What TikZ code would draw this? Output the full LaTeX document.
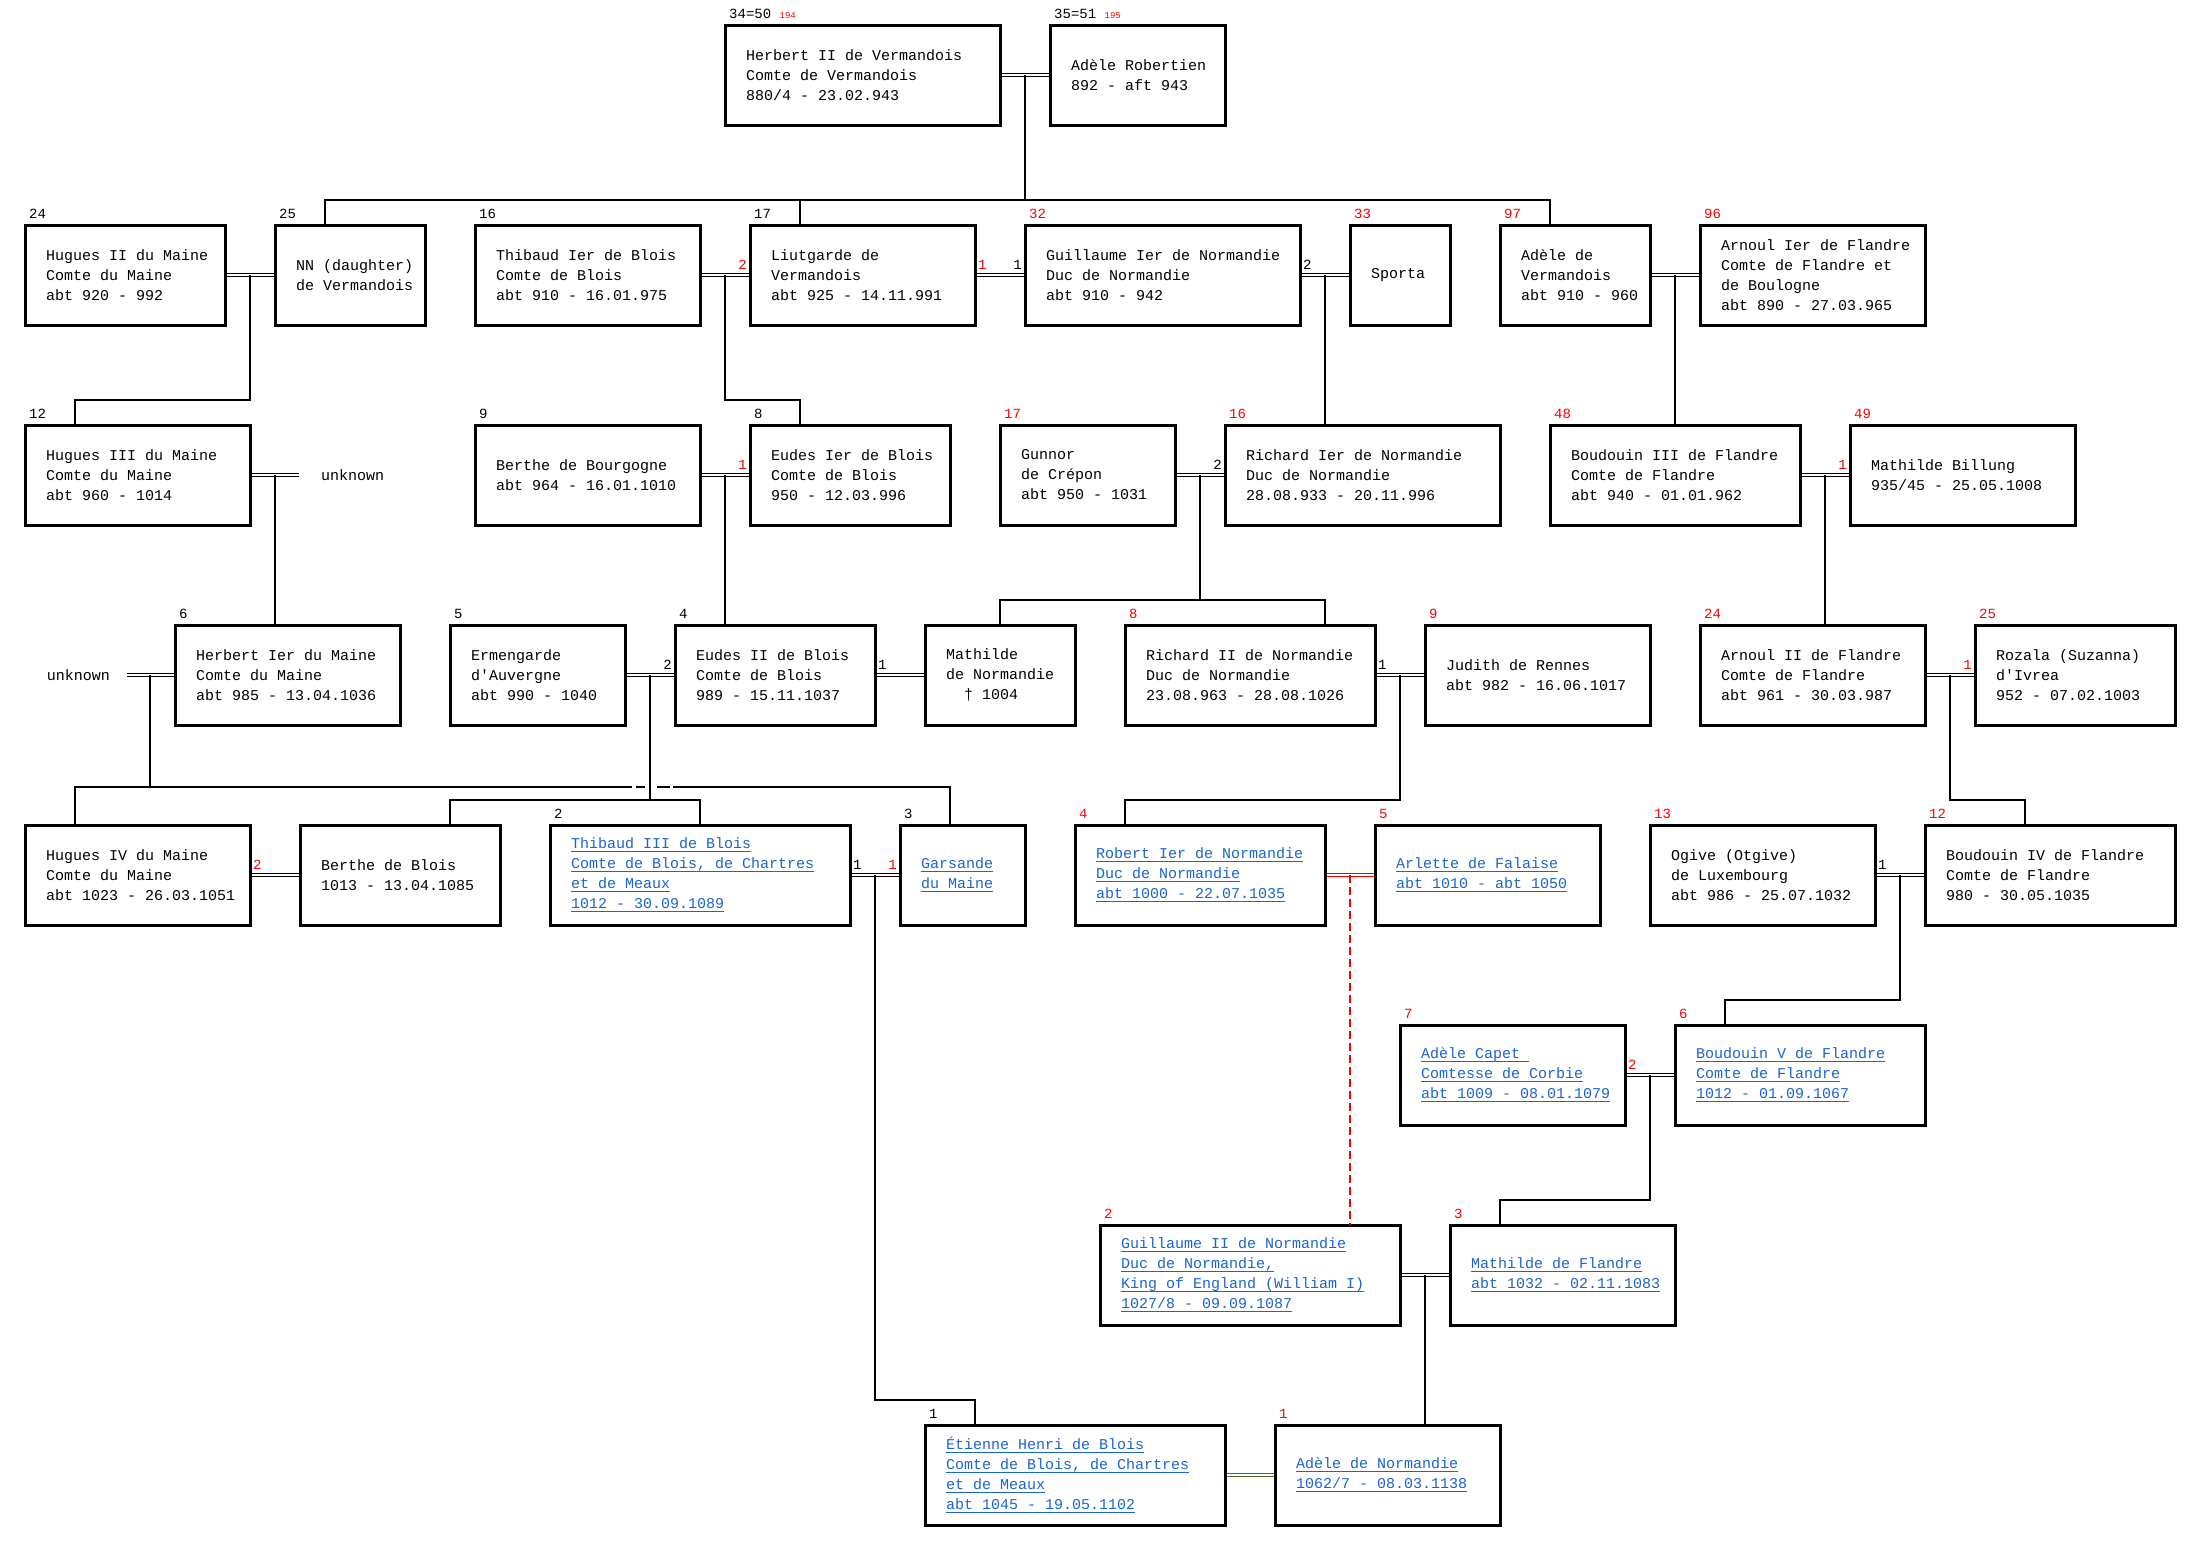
\documentclass[tikz,border=0pt]{standalone}
\usepackage{fontspec}
\setmonofont{Liberation Mono}
\usetikzlibrary{positioning}
\definecolor{linkblue}{RGB}{25,100,210}
\definecolor{wedgreen}{RGB}{70,110,40}
\newcommand{\boxfont}{\ttfamily\fontsize{15pt}{20pt}\selectfont}
\newcommand{\numfont}{\ttfamily\fontsize{14pt}{16pt}\selectfont}
\newcommand{\tinyred}[1]{{\fontsize{9pt}{9pt}\selectfont\color{red}#1}}
\newsavebox{\lnkbox}
\newcommand{\lnk}[1]{\leavevmode\sbox{\lnkbox}{#1}\rlap{\rule[-3pt]{\wd\lnkbox}{1pt}}\usebox{\lnkbox}}

\begin{document}
\begin{tikzpicture}[
    x=1pt, y=-1pt,
    person/.style={rectangle, draw, line width=3pt, outer sep=0pt, inner sep=0pt, minimum width=#1, minimum height=100pt, anchor=north west},
    ptext/.style={anchor=west, align=left, inner xsep=21pt, inner ysep=0pt, font=\boxfont, text=black},
    plink/.style={ptext, text=linkblue},
    nlab/.style={anchor=south west, inner sep=0pt, xshift=4pt, yshift=6pt, font=\numfont},
    mlabL/.style={anchor=south east, inner sep=0pt, xshift=-3pt, yshift=5pt, font=\numfont},
    mlabR/.style={anchor=south west, inner sep=0pt, xshift=3pt, yshift=5pt, font=\numfont},
    unknown/.style={inner ysep=0pt, font=\boxfont},
    wed/.style={double=white, double distance=1.4pt, line width=1pt, shorten >=1.5pt, shorten <=1.5pt},
    kid/.style={line width=2pt},
    illeg/.style={kid, red, dash pattern=on 8pt off 4pt}
]
    \useasboundingbox (0,0) rectangle (2201,1550);

    % Generation 1
    \node[person=275pt, label={[ptext]west:{Herbert II de Vermandois\\Comte de Vermandois\\880/4 - 23.02.943}},
          label={[nlab]north west:{34=50 \tinyred{194}}}] (herbert2) at (725,25) {};
    \node[person=175pt, right=50pt of herbert2, label={[ptext]west:{Adèle Robertien\\892 - aft 943}},
          label={[nlab]north west:{35=51 \tinyred{195}}}] (adeler) {};

    % Generation 2
    \node[person=200pt, label={[ptext]west:{Hugues II du Maine\\Comte du Maine\\abt 920 - 992}},
          label={[nlab]north west:24}] (hugues2) at (25,225) {};
    \node[person=150pt, right=50pt of hugues2, label={[ptext]west:{NN (daughter)\\de Vermandois}},
          label={[nlab]north west:25}] (nn) {};
    \node[person=225pt, right=50pt of nn, label={[ptext]west:{Thibaud Ier de Blois\\Comte de Blois\\abt 910 - 16.01.975}},
          label={[nlab]north west:16}] (thibaud1) {};
    \node[person=225pt, right=50pt of thibaud1, label={[ptext]west:{Liutgarde de\\Vermandois\\abt 925 - 14.11.991}},
          label={[nlab]north west:17}, label={[mlabL, red]west:2}, label={[mlabR, red]east:1}] (liutgarde) {};
    \node[person=275pt, right=50pt of liutgarde, label={[ptext]west:{Guillaume Ier de Normandie\\Duc de Normandie\\abt 910 - 942}},
          label={[nlab, red]north west:32}, label={[mlabL]west:1}, label={[mlabR]east:2}] (guillaume1) {};
    \node[person=100pt, right=50pt of guillaume1, label={[ptext]west:{Sporta}},
          label={[nlab, red]north west:33}] (sporta) {};
    \node[person=150pt, right=50pt of sporta, label={[ptext]west:{Adèle de\\Vermandois\\abt 910 - 960}},
          label={[nlab, red]north west:97}] (adelev) {};
    \node[person=225pt, right=50pt of adelev, label={[ptext]west:{Arnoul Ier de Flandre\\Comte de Flandre et\\de Boulogne\\abt 890 - 27.03.965}},
          label={[nlab, red]north west:96}] (arnoul1) {};

    % Generation 3
    \node[person=225pt, label={[ptext]west:{Hugues III du Maine\\Comte du Maine\\abt 960 - 1014}},
          label={[nlab]north west:12}] (hugues3) at (25,425) {};
    \node[unknown, right=50pt of hugues3, inner xsep=21pt] (unk1) {unknown};
    \node[person=225pt, label={[ptext]west:{Berthe de Bourgogne\\abt 964 - 16.01.1010}},
          label={[nlab]north west:9}] (berthebg) at (475,425) {};
    \node[person=200pt, right=50pt of berthebg, label={[ptext]west:{Eudes Ier de Blois\\Comte de Blois\\950 - 12.03.996}},
          label={[nlab]north west:8}, label={[mlabL, red]west:1}] (eudes1) {};
    \node[person=175pt, right=50pt of eudes1, label={[ptext]west:{Gunnor\\de Crépon\\abt 950 - 1031}},
          label={[nlab, red]north west:17}] (gunnor) {};
    \node[person=275pt, right=50pt of gunnor, label={[ptext]west:{Richard Ier de Normandie\\Duc de Normandie\\28.08.933 - 20.11.996}},
          label={[nlab, red]north west:16}, label={[mlabL]west:2}] (richard1) {};
    \node[person=250pt, right=50pt of richard1, label={[ptext]west:{Boudouin III de Flandre\\Comte de Flandre\\abt 940 - 01.01.962}},
          label={[nlab, red]north west:48}] (boudouin3) {};
    \node[person=225pt, right=50pt of boudouin3, label={[ptext]west:{Mathilde Billung\\935/45 - 25.05.1008}},
          label={[nlab, red]north west:49}, label={[mlabL, red]west:1}] (mathildeb) {};

    % Generation 4
    \node[person=225pt, label={[ptext]west:{Herbert Ier du Maine\\Comte du Maine\\abt 985 - 13.04.1036}},
          label={[nlab]north west:6}] (herbert1) at (175,625) {};
    \node[unknown, left=50pt of herbert1, inner xsep=15pt] (unk2) {unknown};
    \node[person=175pt, right=50pt of herbert1, label={[ptext]west:{Ermengarde\\d'Auvergne\\abt 990 - 1040}},
          label={[nlab]north west:5}] (ermengarde) {};
    \node[person=200pt, right=50pt of ermengarde, label={[ptext]west:{Eudes II de Blois\\Comte de Blois\\989 - 15.11.1037}},
          label={[nlab]north west:4}, label={[mlabL]west:2}, label={[mlabR]east:1}] (eudes2) {};
    \node[person=150pt, right=50pt of eudes2, label={[ptext]west:{Mathilde\\de Normandie\\~~† 1004}}] (mathilden) {};
    \node[person=250pt, right=50pt of mathilden, label={[ptext]west:{Richard II de Normandie\\Duc de Normandie\\23.08.963 - 28.08.1026}},
          label={[nlab, red]north west:8}, label={[mlabR]east:1}] (richard2) {};
    \node[person=225pt, right=50pt of richard2, label={[ptext]west:{Judith de Rennes\\abt 982 - 16.06.1017}},
          label={[nlab, red]north west:9}] (judith) {};
    \node[person=225pt, right=50pt of judith, label={[ptext]west:{Arnoul II de Flandre\\Comte de Flandre\\abt 961 - 30.03.987}},
          label={[nlab, red]north west:24}] (arnoul2) {};
    \node[person=200pt, right=50pt of arnoul2, label={[ptext]west:{Rozala (Suzanna)\\d'Ivrea\\952 - 07.02.1003}},
          label={[nlab, red]north west:25}, label={[mlabL, red]west:1}] (rozala) {};

    % Generation 5
    \node[person=225pt, label={[ptext]west:{Hugues IV du Maine\\Comte du Maine\\abt 1023 - 26.03.1051}},
          label={[mlabR, red]east:2}] (hugues4) at (25,825) {};
    \node[person=200pt, right=50pt of hugues4, label={[ptext]west:{Berthe de Blois\\1013 - 13.04.1085}}] (berthebl) {};
    \node[person=300pt, right=50pt of berthebl, label={[plink]west:{\lnk{Thibaud III de Blois}\\\lnk{Comte de Blois, de Chartres}\\\lnk{et de Meaux}\\\lnk{1012 - 30.09.1089}}},
          label={[nlab]north west:2}, label={[mlabR]east:1}] (thibaud3) {};
    \node[person=125pt, right=50pt of thibaud3, label={[plink]west:{\lnk{Garsande}\\\lnk{du Maine}}},
          label={[nlab]north west:3}, label={[mlabL, red]west:1}] (garsande) {};
    \node[person=250pt, right=50pt of garsande, label={[plink]west:{\lnk{Robert Ier de Normandie}\\\lnk{Duc de Normandie}\\\lnk{abt 1000 - 22.07.1035}}},
          label={[nlab, red]north west:4}] (robert) {};
    \node[person=225pt, right=50pt of robert, label={[plink]west:{\lnk{Arlette de Falaise}\\\lnk{abt 1010 - abt 1050}}},
          label={[nlab, red]north west:5}] (arlette) {};
    \node[person=225pt, right=50pt of arlette, label={[ptext]west:{Ogive (Otgive)\\de Luxembourg\\abt 986 - 25.07.1032}},
          label={[nlab, red]north west:13}, label={[mlabR]east:1}] (ogive) {};
    \node[person=250pt, right=50pt of ogive, label={[ptext]west:{Boudouin IV de Flandre\\Comte de Flandre\\980 - 30.05.1035}},
          label={[nlab, red]north west:12}] (boudouin4) {};

    % Generation 6
    \node[person=225pt, label={[plink]west:{\lnk{Adèle Capet\ }\\\lnk{Comtesse de Corbie}\\\lnk{abt 1009 - 08.01.1079}}},
          label={[nlab, red]north west:7}, label={[mlabR, red]east:2}] (capet) at (1400,1025) {};
    \node[person=250pt, right=50pt of capet, label={[plink]west:{\lnk{Boudouin V de Flandre}\\\lnk{Comte de Flandre}\\\lnk{1012 - 01.09.1067}}},
          label={[nlab, red]north west:6}] (boudouin5) {};

    % Generation 7
    \node[person=300pt, label={[plink]west:{\lnk{Guillaume II de Normandie}\\\lnk{Duc de Normandie,}\\\lnk{King of England (William I)}\\\lnk{1027/8 - 09.09.1087}}},
          label={[nlab, red]north west:2}] (guillaume2) at (1100,1225) {};
    \node[person=225pt, right=50pt of guillaume2, label={[plink]west:{\lnk{Mathilde de Flandre}\\\lnk{abt 1032 - 02.11.1083}}},
          label={[nlab, red]north west:3}] (mathildef) {};

    % Generation 8
    \node[person=300pt, label={[plink]west:{\lnk{Étienne Henri de Blois}\\\lnk{Comte de Blois, de Chartres}\\\lnk{et de Meaux}\\\lnk{abt 1045 - 19.05.1102}}},
          label={[nlab]north west:1}] (etienne) at (925,1425) {};
    \node[person=225pt, right=50pt of etienne, label={[plink]west:{\lnk{Adèle de Normandie}\\\lnk{1062/7 - 08.03.1138}}},
          label={[nlab, red]north west:1}] (adelen) {};

    % Marriages
    \draw[wed] (herbert2.east) -- coordinate (w0) (adeler.west);
    \draw[wed] (hugues2.east) -- coordinate (w1) (nn.west);
    \draw[wed] (thibaud1.east) -- coordinate (w2) (liutgarde.west);
    \draw[wed] (liutgarde.east) -- (guillaume1.west);
    \draw[wed] (guillaume1.east) -- coordinate (w4) (sporta.west);
    \draw[wed] (adelev.east) -- coordinate (w5) (arnoul1.west);
    \draw[wed] (hugues3.east) -- coordinate (w6) (unk1.west);
    \draw[wed] (berthebg.east) -- coordinate (w7) (eudes1.west);
    \draw[wed] (gunnor.east) -- coordinate (w8) (richard1.west);
    \draw[wed] (boudouin3.east) -- coordinate (w9) (mathildeb.west);
    \draw[wed] (unk2.east) -- coordinate (w10) (herbert1.west);
    \draw[wed] (ermengarde.east) -- coordinate (w11) (eudes2.west);
    \draw[wed] (eudes2.east) -- (mathilden.west);
    \draw[wed] (richard2.east) -- coordinate (w13) (judith.west);
    \draw[wed] (arnoul2.east) -- coordinate (w14) (rozala.west);
    \draw[wed] (hugues4.east) -- (berthebl.west);
    \draw[wed] (thibaud3.east) -- coordinate (w15) (garsande.west);
    \draw[wed, red] (robert.east) -- coordinate (w16) (arlette.west);
    \draw[wed] (ogive.east) -- coordinate (w17) (boudouin4.west);
    \draw[wed] (capet.east) -- coordinate (w18) (boudouin5.west);
    \draw[wed] (guillaume2.east) -- coordinate (w19) (mathildef.west);
    \draw[wed, wedgreen] (etienne.east) -- (adelen.west);

    % Children
    \draw[kid] (w0) -- ++(0,125) coordinate (j0);
    \draw[kid] ([xshift=50pt]nn.north west) |- (j0) -| ([xshift=50pt]adelev.north west);
    \draw[kid] (j0) -| ([xshift=50pt]liutgarde.north west);
    \draw[kid] (w1) -- ++(0,125) -| ([xshift=50pt]hugues3.north west);
    \draw[kid] (w2) -- ++(0,125) -| ([xshift=50pt]eudes1.north west);
    \draw[kid] (w4) -- (w4 |- richard1.north);
    \draw[kid] (w5) -- (w5 |- boudouin3.north);
    \draw[kid] (w6) -- (w6 |- herbert1.north);
    \draw[kid] (w7) -- (w7 |- eudes2.north);
    \draw[kid] (w8) -- ++(0,125) coordinate (j8);
    \draw[kid] ([xshift=75pt]mathilden.north west) |- (j8) -| ([xshift=200pt]richard2.north west);
    \draw[kid] (w9) -- (w9 |- arnoul2.north);
    \draw[kid] (w10) -- ++(0,112) coordinate (j10);
    \draw[kid, dash pattern=on 595pt off 4pt on 9pt off 12pt on 13pt off 3pt on 400pt]
        ([xshift=50pt]hugues4.north west) |- (j10) -| ([xshift=50pt]garsande.north west);
    \draw[kid] (w11) -- ++(0,125) coordinate (j11);
    \draw[kid] ([xshift=150pt]berthebl.north west) |- (j11) -| ([xshift=150pt]thibaud3.north west);
    \draw[kid] (w13) -- ++(0,125) -| ([xshift=50pt]robert.north west);
    \draw[kid] (w14) -- ++(0,125) -| ([xshift=100pt]boudouin4.north west);
    \draw[kid] (w15) -- ++(0,525) -| ([xshift=50pt]etienne.north west);
    \draw[illeg] (w16) -- (w16 |- guillaume2.north);
    \draw[kid] (w17) -- ++(0,125) -| ([xshift=50pt]boudouin5.north west);
    \draw[kid] (w18) -- ++(0,125) -| ([xshift=50pt]mathildef.north west);
    \draw[kid] (w19) -- (w19 |- adelen.north);
\end{tikzpicture}
\end{document}
